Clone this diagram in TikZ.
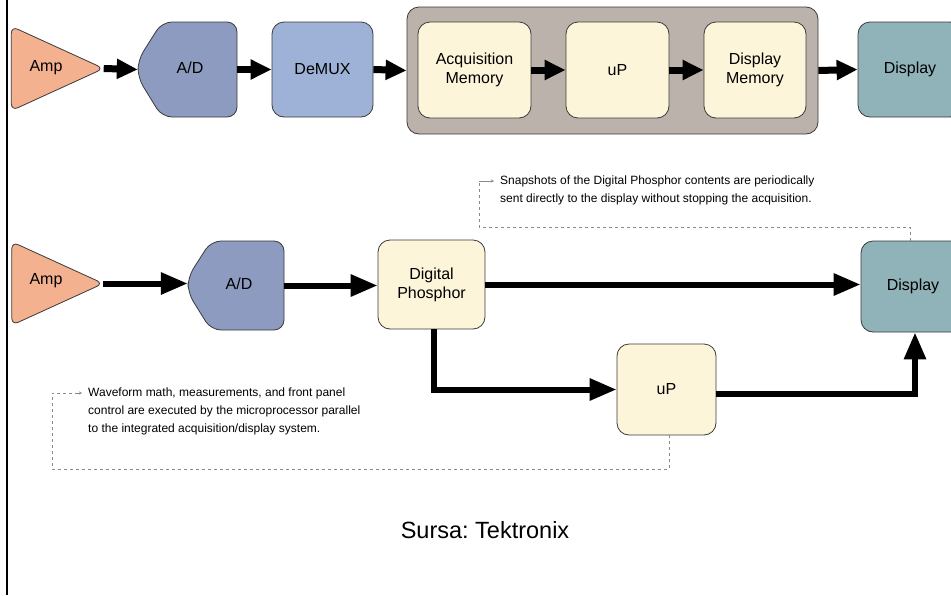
\documentclass[tikz,border=0pt]{standalone}
\usepackage{fontspec}
\setmainfont{Liberation Sans}
\usetikzlibrary{arrows.meta,calc}
\definecolor{ampc}{HTML}{F4B190}
\definecolor{adc}{HTML}{8D9BC0}
\definecolor{demuxc}{HTML}{9DB2D6}
\definecolor{memc}{HTML}{FDF5D9}
\definecolor{grayc}{HTML}{BBB3AB}
\definecolor{dispc}{HTML}{8FB3B8}
\definecolor{edgec}{HTML}{3A3A3A}
\definecolor{notec}{HTML}{8A8A8A}
\begin{document}
\frenchspacing
\begin{tikzpicture}[x=1pt,y=-1pt,
  box/.style={draw=edgec, line width=0.8pt, rounded corners=12pt, inner sep=0pt, align=center, font=\fontsize{16}{19}\selectfont},
  shapeline/.style={draw=edgec, line width=0.8pt},
  anchorbox/.style={inner sep=0pt, draw=none},
  lbl/.style={font=\fontsize{16}{19}\selectfont, align=center},
  bigarrow/.style={line width=7pt, -{Triangle[length=21pt,width=19pt]}},
  longarrow/.style={line width=6pt, -{Triangle[length=27pt,width=21pt]}},
  note/.style={draw=notec, line width=0.7pt, dash pattern=on 3pt off 3pt},
  notearrow/.style={draw=notec, line width=0.7pt, -{Stealth[length=3pt,width=3pt]}},
  notetext/.style={font=\fontsize{12}{18}\selectfont, align=left, anchor=west, inner sep=0pt}
]
\useasboundingbox (0,0) rectangle (951,595);
\clip (0,0) rectangle (951,595);
\fill[white] (0,0) rectangle (951,595);
\draw[line width=2pt, black] (7,0) -- (7,595);

% ---------- top row ----------
\node[anchorbox, minimum width=92pt, minimum height=84pt] (amp1) at (57.5,68.5) {};
\path[shapeline, fill=ampc, rounded corners=7pt] (amp1.north west) -- (amp1.east) -- (amp1.south west) -- cycle;
\node[lbl] (amp1t) at (46,68) {Amp};

\node[anchorbox, minimum width=99pt, minimum height=95pt] (ad1) at (187.5,69.5) {};
\path[shapeline, fill=adc, rounded corners=10pt] (162,22) -- (237,22) -- (237,117) -- (162,117) -- (138,78) -- (138,60) -- cycle;
\node[lbl] (ad1t) at (190,68) {A/D};

\node[box, fill=demuxc, minimum width=101pt, minimum height=95pt] (demux1) at (322.5,69.5) {DeMUX};

\node[box, fill=grayc, minimum width=411pt, minimum height=127pt] (cont) at (612.5,70.5) {};
\node[box, fill=memc, minimum width=113pt, minimum height=96pt] (acq) at (474.5,70) {Acquisition\\Memory};
\node[box, fill=memc, minimum width=103pt, minimum height=96pt] (up1) at (617.5,70) {uP};
\node[box, fill=memc, minimum width=102pt, minimum height=96pt] (dmem) at (755,70) {Display\\Memory};
\node[box, fill=dispc, minimum width=104pt, minimum height=95pt, text width=88pt] (disp1) at (910,69.5) {Display};

\draw[bigarrow] (amp1.east) -- (ad1.west);
\draw[bigarrow] (ad1.east) -- (demux1.west);
\draw[bigarrow] (demux1.east) -- (cont.west);
\draw[bigarrow] (acq.east) -- (up1.west);
\draw[bigarrow] (up1.east) -- (dmem.west);
\draw[bigarrow] (cont.east) -- (disp1.west);

% ---------- bottom row ----------
\node[anchorbox, minimum width=91pt, minimum height=83pt] (amp2) at (57.5,283.5) {};
\path[shapeline, fill=ampc, rounded corners=7pt] (amp2.north west) -- (amp2.east) -- (amp2.south west) -- cycle;
\node[lbl] (amp2t) at (46,281) {Amp};

\node[anchorbox, minimum width=96pt, minimum height=89pt] (ad2) at (236,285.5) {};
\path[shapeline, fill=adc, rounded corners=10pt] (211,241) -- (284,241) -- (284,330) -- (211,330) -- (188,293) -- (188,277) -- cycle;
\node[lbl] (ad2t) at (239,284) {A/D};

\node[box, fill=memc, minimum width=107pt, minimum height=89pt] (dp) at (431.5,284.5) {Digital\\Phosphor};
\node[box, fill=dispc, minimum width=104pt, minimum height=91pt, text width=88pt] (disp2) at (913,286.5) {Display};
\node[box, fill=memc, minimum width=99pt, minimum height=91pt] (up2) at (666.5,389.5) {uP};

\draw[longarrow] (amp2.east) -- (amp2.east -| ad2.west);
\draw[longarrow] (ad2.east) -- (ad2.east -| dp.west);
\draw[longarrow] (dp.east) -- (dp.east -| disp2.west);
\draw[longarrow] ([xshift=2.5pt]dp.south) |- (up2.west);
\draw[longarrow] ([yshift=-4.5pt]up2.east) -| ([xshift=2pt]disp2.south);

% ---------- notes ----------
\node[notetext] (note1) at (500,190) {Snapshots of the Digital Phosphor contents are periodically\\sent directly to the display without stopping the acquisition.};
\coordinate (n1c) at (479,227);
\coordinate (n1t) at (479,181);
\coordinate (n1a) at (494,181);
\draw[note] ([xshift=-3pt]disp2.north) |- (n1c) -- (n1t);
\draw[notearrow] (n1t) -- (n1a);

\node[notetext] (note2) at (88,411) {Waveform math, measurements, and front panel\\control are executed by the microprocessor parallel\\to the integrated acquisition/display system.};
\coordinate (n2c) at (52,469);
\coordinate (n2t) at (52,393);
\coordinate (n2a) at (82,393);
\draw[note] ([xshift=2.5pt]up2.south) |- (n2c) -- (n2t) -- ($(n2a)+(-6,0)$);
\draw[notearrow] ($(n2a)+(-6,0)$) -- (n2a);

\node[font=\fontsize{23.5}{28}\selectfont] (src) at (485,530) {Sursa: Tektronix};
\end{tikzpicture}
\end{document}
